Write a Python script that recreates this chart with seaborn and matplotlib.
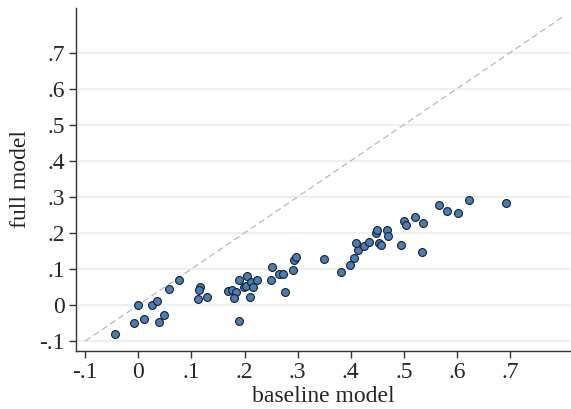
import numpy as np
import pandas as pd
import matplotlib
matplotlib.use("Agg")
import matplotlib.pyplot as plt
from matplotlib.ticker import FuncFormatter
import seaborn as sns

baseline = [-0.044, -0.009, 0.011, 0.000, 0.025, 0.035, 0.039, 0.048, 0.057, 0.076,
            0.117, 0.115, 0.112, 0.129, 0.169, 0.176, 0.183, 0.181, 0.189, 0.189,
            0.205, 0.199, 0.202, 0.213, 0.216, 0.211, 0.223, 0.251, 0.249, 0.264,
            0.272, 0.276, 0.291, 0.294, 0.297, 0.350, 0.382, 0.398, 0.407, 0.413,
            0.410, 0.425, 0.435, 0.448, 0.449, 0.453, 0.457, 0.468, 0.470, 0.494,
            0.534, 0.501, 0.504, 0.521, 0.537, 0.567, 0.582, 0.603, 0.622, 0.692]
full = [-0.081, -0.051, -0.039, -0.001, 0.001, 0.011, -0.048, -0.029, 0.044, 0.070,
        0.050, 0.041, 0.017, 0.021, 0.038, 0.042, 0.035, 0.019, 0.070, -0.045,
        0.081, 0.051, 0.052, 0.064, 0.051, 0.022, 0.069, 0.105, 0.069, 0.085,
        0.085, 0.036, 0.096, 0.125, 0.134, 0.127, 0.091, 0.111, 0.131, 0.152,
        0.171, 0.163, 0.176, 0.199, 0.207, 0.171, 0.165, 0.207, 0.192, 0.165,
        0.147, 0.234, 0.223, 0.243, 0.227, 0.277, 0.260, 0.255, 0.291, 0.284]
ticks = [-0.1, 0.0, 0.1, 0.2, 0.3, 0.4, 0.5, 0.6, 0.7]

df = pd.DataFrame({"baseline model": baseline, "full model": full})

sns.set_style("ticks")
plt.rcParams["font.family"] = ["Liberation Serif", "DejaVu Serif"]

fig = plt.figure(figsize=(5.71, 4.09), dpi=100)
ax = fig.add_axes([0.1331, 0.1425, 0.8649, 0.8379])

ax.set_xlim(-0.1175, 0.8128)
ax.set_ylim(-0.127, 0.824)

# light horizontal reference lines at each tick
for t in ticks:
    ax.axhline(t, color="#eef0f0", lw=1.6, zorder=0)

# 45-degree line
ax.plot([-0.1, 0.8], [-0.1, 0.8], ls=(0, (5, 3)), color="#b8b8b8", lw=0.9, zorder=1)

sns.scatterplot(data=df, x="baseline model", y="full model", ax=ax,
                color="#4a7db5", edgecolor="#15202c", linewidth=0.8, s=32, zorder=3)

fmt = FuncFormatter(lambda v, p: "0" if abs(v) < 1e-9 else
                    ("-" if v < 0 else "") + ("%.1f" % abs(v)).lstrip("0"))
ax.set_xticks(ticks)
ax.set_yticks(ticks)
ax.xaxis.set_major_formatter(fmt)
ax.yaxis.set_major_formatter(fmt)
ax.tick_params(axis="both", labelsize=17, length=5, width=1, color="#333333", pad=3)

for s in ["top", "right"]:
    ax.spines[s].set_visible(False)
for s in ["left", "bottom"]:
    ax.spines[s].set_color("#333333")
    ax.spines[s].set_linewidth(1.0)

ax.set_xlabel("baseline model", fontsize=17, labelpad=2)
ax.set_ylabel("full model", fontsize=17, labelpad=6)

fig.savefig("out.png", dpi=100)
